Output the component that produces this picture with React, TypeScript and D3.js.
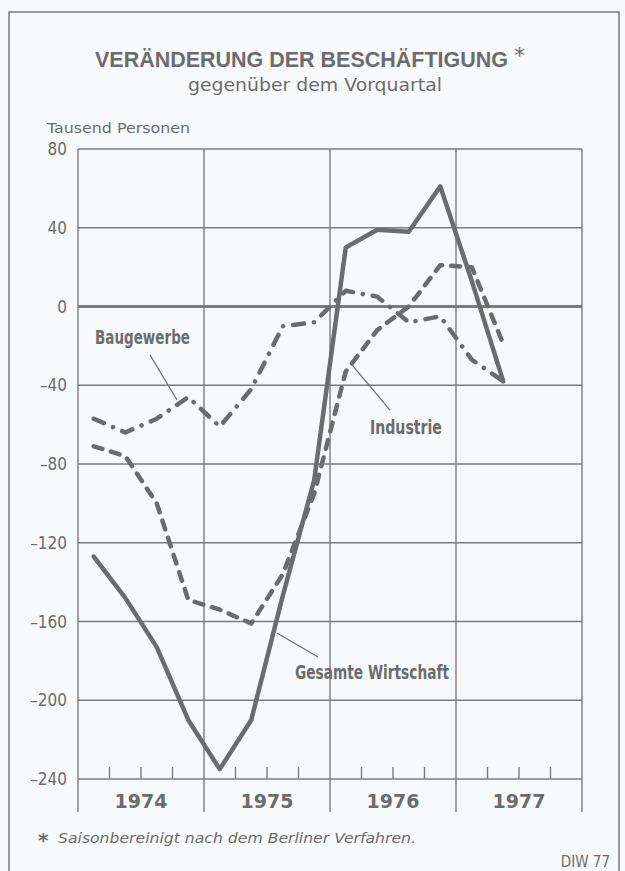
import React from 'react';
import * as d3 from 'd3';

// quarterly values, thousand persons, change vs. previous quarter
const quarters = [
  '1974 I', '1974 II', '1974 III', '1974 IV',
  '1975 I', '1975 II', '1975 III', '1975 IV',
  '1976 I', '1976 II', '1976 III', '1976 IV',
  '1977 I', '1977 II',
];
const gesamteWirtschaft = [-127, -148, -173, -210, -235, -210, -147, -88, 30, 39, 38, 61, 13, -38];
const industrie = [-71, -76, -100, -149, -154, -161, -136, -95, -33, -12, 0, 21, 20, -19];
const baugewerbe = [-57, -64, -57, -46, -61, -42, -10, -8, 8, 5, -8, -5, -27, -38];

const years = ['1974', '1975', '1976', '1977'];
const yTicks = [80, 40, 0, -40, -80, -120, -160, -200, -240];

const romans = ['I', 'II', 'III', 'IV'];

const W = 625;
const H = 871;
const ink = '#6c6c6c';
const grid = '#7c7c7c';
const narrow = "'Liberation Sans Narrow', 'DejaVu Sans Condensed', sans-serif";

function quarterPos(label: string) {
  const [yr, q] = label.split(' ');
  return +yr + (romans.indexOf(q) + 0.5) / 4;
}

export default function App() {
  const x = d3.scaleLinear().domain([1974, 1978]).range([78, 582]);
  const y = d3.scaleLinear().domain([-240, 80]).range([779, 149]);

  const line = d3.line<number>()
    .x((d, i) => x(quarterPos(quarters[i])))
    .y((d) => y(d));

  const quarterTicks = d3.range(1974, 1978.01, 0.25).filter((t) => t % 1 !== 0);

  const fmt = (v: number) => (v < 0 ? '\u2013' + Math.abs(v) : String(v));

  return (
    <div style={{ position: 'absolute', left: 0, top: 0 }}>
      <svg width={W} height={H} style={{ display: 'block', background: '#f7f9fa' }}>
        {/* outer frame, open at the bottom */}
        <path d={`M9,${H} V12 H619 V${H}`} fill="none" stroke={grid} strokeWidth={1.5} />

        <text x={95} y={67} fontFamily="'Liberation Sans', Arial, sans-serif" fontWeight="bold"
          fontSize={21.5} fill={ink} textLength={413} lengthAdjust="spacingAndGlyphs">
          VERÄNDERUNG DER BESCHÄFTIGUNG
        </text>
        <text x={514} y={63} fontFamily="'DejaVu Sans', sans-serif" fontSize={22} fill={ink}>*</text>
        <text x={315} y={91} textAnchor="middle" fontFamily="'DejaVu Sans', sans-serif" fontSize={17.5}
          fill={ink} textLength={254} lengthAdjust="spacingAndGlyphs">
          gegenüber dem Vorquartal
        </text>
        <text x={47} y={133} fontFamily="'DejaVu Sans', sans-serif" fontSize={13.5} fill={ink}
          textLength={143} lengthAdjust="spacingAndGlyphs">
          Tausend Personen
        </text>

        {/* horizontal grid */}
        {yTicks.map((t) => (
          <g key={t}>
            <line x1={x(1974)} x2={x(1978)} y1={y(t)} y2={y(t)} stroke={grid}
              strokeWidth={t === 0 ? 2.8 : 1.4} />
            <text x={67} y={y(t)} dy="0.36em" textAnchor="end" fontFamily={narrow} fontSize={17}
              fill={ink}>{fmt(t)}</text>
          </g>
        ))}

        {/* vertical grid and year separators */}
        {d3.range(1974, 1979).map((yr) => (
          <line key={yr} x1={x(yr)} x2={x(yr)} y1={y(80)} y2={812} stroke={grid} strokeWidth={1.4} />
        ))}
        {quarterTicks.map((t) => (
          <line key={t} x1={x(t)} x2={x(t)} y1={y(-240)} y2={y(-240) - 12} stroke={grid} strokeWidth={1.4} />
        ))}
        {years.map((yr) => (
          <text key={yr} x={x(+yr + 0.5)} y={808} textAnchor="middle" fontFamily="'DejaVu Sans', sans-serif"
            fontWeight="bold" fontSize={19} fill={ink}>{yr}</text>
        ))}

        {/* series */}
        <path d={line(baugewerbe) || ''} fill="none" stroke={ink} strokeWidth={4.5}
          strokeDasharray="11 10 0.1 10" strokeLinecap="round" strokeLinejoin="round" />
        <path d={line(industrie) || ''} fill="none" stroke={ink} strokeWidth={4.5}
          strokeDasharray="9 9" strokeLinecap="round" strokeLinejoin="round" />
        <path d={line(gesamteWirtschaft) || ''} fill="none" stroke={ink} strokeWidth={4.5}
          strokeLinecap="round" strokeLinejoin="round" />

        {/* labels with leader lines */}
        <line x1={x(1974.571)} y1={y(-24.6)} x2={x(1974.786)} y2={y(-47.5)} stroke={ink} strokeWidth={1.2} />
        <text x={x(1974.135)} y={y(-19)} fontFamily={narrow} fontWeight="bold" fontSize={19} fill={ink}
          textLength={95} lengthAdjust="spacingAndGlyphs">Baugewerbe</text>

        <line x1={x(1976.175)} y1={y(-29.7)} x2={x(1976.476)} y2={y(-52.6)} stroke={ink} strokeWidth={1.2} />
        <text x={x(1976.317)} y={y(-64.8)} fontFamily={narrow} fontWeight="bold" fontSize={19} fill={ink}
          textLength={72} lengthAdjust="spacingAndGlyphs">Industrie</text>

        <line x1={x(1975.579)} y1={y(-165.8)} x2={x(1975.905)} y2={y(-178)} stroke={ink} strokeWidth={1.2} />
        <text x={x(1975.722)} y={y(-189)} fontFamily={narrow} fontWeight="bold" fontSize={19} fill={ink}
          textLength={154} lengthAdjust="spacingAndGlyphs">Gesamte Wirtschaft</text>

        {/* footnote */}
        <text x={38} y={847} fontFamily="'DejaVu Sans', sans-serif" fontWeight="bold" fontSize={20} fill={ink}>*</text>
        <text x={58} y={843} fontFamily="'DejaVu Sans', sans-serif" fontStyle="italic" fontSize={13.5} fill={ink}
          textLength={358} lengthAdjust="spacingAndGlyphs">Saisonbereinigt nach dem Berliner Verfahren.</text>
        <text x={610} y={867} textAnchor="end" fontFamily={narrow} fontSize={15} fill={ink}>DIW 77</text>
      </svg>
    </div>
  );
}
